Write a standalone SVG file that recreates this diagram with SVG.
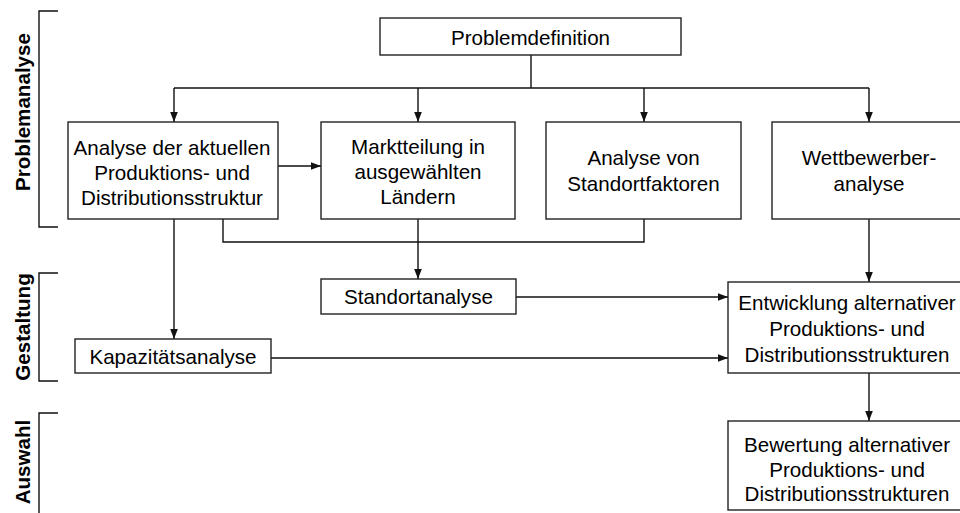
<svg xmlns="http://www.w3.org/2000/svg" width="960" height="513" viewBox="0 0 960 513">
<style>
.box{fill:#fff;stroke:#222;stroke-width:1.4}
.t{font-family:"Liberation Sans",Arial,sans-serif;font-size:20.6px;fill:#000;text-anchor:middle}
.lab{font-family:"Liberation Sans",Arial,sans-serif;font-size:20.6px;font-weight:bold;fill:#000;text-anchor:middle}
.ln{fill:none;stroke:#111;stroke-width:1.4}
.br{fill:none;stroke:#111;stroke-width:1.4}
</style>
<defs>
<marker id="ah" markerUnits="userSpaceOnUse" markerWidth="10" markerHeight="10" viewBox="0 0 10 10" refX="10" refY="5" orient="auto">
<path d="M0,1.2 L10,5 L0,8.8 Z" fill="#111"/>
</marker>
</defs>
<rect width="960" height="513" fill="#fff"/>
<g id="phases">
<polyline class="br" points="58,11 39,11 39,227 58,227"/>
<text class="lab" transform="translate(30,112) rotate(-90)">Problemanalyse</text>
<polyline class="br" points="58,273 39,273 39,381 58,381"/>
<text class="lab" transform="translate(30,327) rotate(-90)">Gestaltung</text>
<polyline class="br" points="58,413 39,413 39,515"/>
<text class="lab" transform="translate(30,462) rotate(-90)">Auswahl</text>
</g>
<g id="connectors">
<polyline class="ln" points="531,55 531,88"/>
<polyline class="ln" points="174,88 869,88"/>
<line class="ln" x1="174" y1="88" x2="174" y2="122" marker-end="url(#ah)"/>
<line class="ln" x1="418" y1="88" x2="418" y2="122" marker-end="url(#ah)"/>
<line class="ln" x1="644" y1="88" x2="644" y2="122" marker-end="url(#ah)"/>
<line class="ln" x1="869" y1="88" x2="869" y2="122" marker-end="url(#ah)"/>
<line class="ln" x1="278" y1="166" x2="321" y2="166" marker-end="url(#ah)"/>
<polyline class="ln" points="223,219 223,242 644,242 644,219"/>
<line class="ln" x1="418" y1="219" x2="418" y2="279" marker-end="url(#ah)"/>
<line class="ln" x1="174" y1="219" x2="174" y2="339" marker-end="url(#ah)"/>
<line class="ln" x1="516" y1="297" x2="728" y2="297" marker-end="url(#ah)"/>
<line class="ln" x1="271" y1="358" x2="728" y2="358" marker-end="url(#ah)"/>
<line class="ln" x1="869" y1="219" x2="869" y2="282" marker-end="url(#ah)"/>
<line class="ln" x1="869" y1="373" x2="869" y2="421" marker-end="url(#ah)"/>
</g>
<g id="problemdefinition">
<rect class="box" x="380" y="18" width="301" height="37"/>
<text class="t" x="530.5" y="45">Problemdefinition</text>
</g>
<g id="analyse-struktur">
<rect class="box" x="68" y="122" width="210" height="97"/>
<text class="t" x="172" y="155">Analyse der aktuellen</text>
<text class="t" x="172" y="180">Produktions- und</text>
<text class="t" x="172" y="205">Distributionsstruktur</text>
</g>
<g id="marktteilung">
<rect class="box" x="321" y="122" width="194" height="97"/>
<text class="t" x="418" y="154">Marktteilung in</text>
<text class="t" x="418" y="179">ausgewählten</text>
<text class="t" x="418" y="204">Ländern</text>
</g>
<g id="standortfaktoren">
<rect class="box" x="546" y="122" width="195" height="97"/>
<text class="t" x="643.5" y="165">Analyse von</text>
<text class="t" x="643.5" y="191">Standortfaktoren</text>
</g>
<g id="wettbewerber">
<rect class="box" x="772" y="122" width="195" height="97"/>
<text class="t" x="869" y="165">Wettbewerber-</text>
<text class="t" x="869" y="191">analyse</text>
</g>
<g id="standortanalyse">
<rect class="box" x="321" y="279" width="195" height="35"/>
<text class="t" x="418.5" y="304">Standortanalyse</text>
</g>
<g id="kapazitaetsanalyse">
<rect class="box" x="75" y="339" width="196" height="34"/>
<text class="t" x="173" y="364">Kapazitätsanalyse</text>
</g>
<g id="entwicklung">
<rect class="box" x="728" y="282" width="238" height="91"/>
<text class="t" x="847" y="310">Entwicklung alternativer</text>
<text class="t" x="847" y="336">Produktions- und</text>
<text class="t" x="847" y="362">Distributionsstrukturen</text>
</g>
<g id="bewertung">
<rect class="box" x="728" y="421" width="238" height="89"/>
<text class="t" x="847" y="452">Bewertung alternativer</text>
<text class="t" x="847" y="477">Produktions- und</text>
<text class="t" x="847" y="501">Distributionsstrukturen</text>
</g>
</svg>
